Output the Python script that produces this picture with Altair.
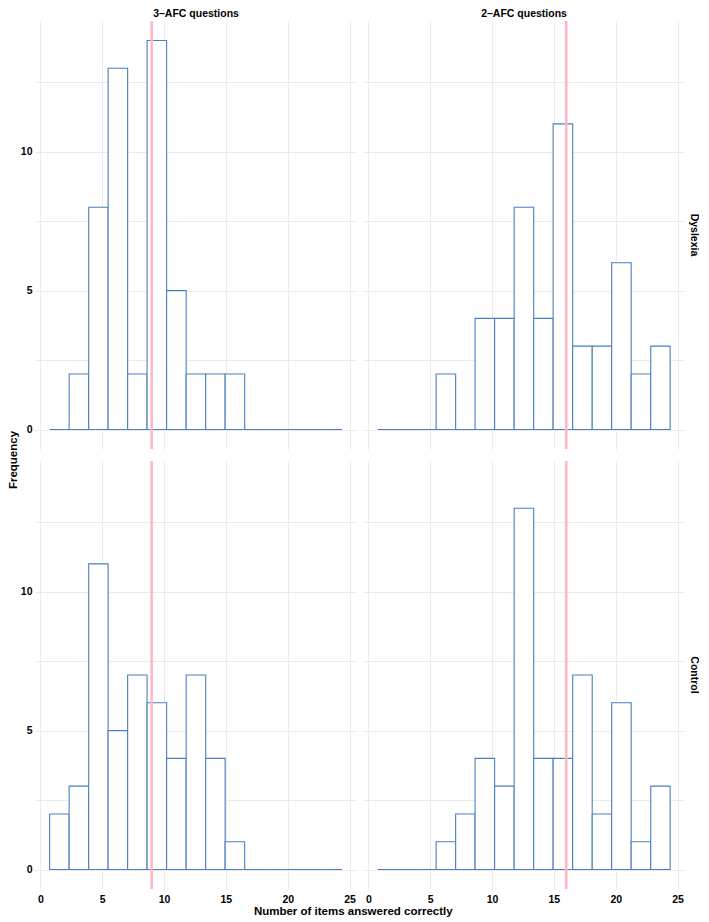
import altair as alt
import pandas as pd

# bin edges (number of items answered correctly)
bin_lo = [0.75, 2.33, 3.91, 5.48, 7.06, 8.63, 10.21, 11.79, 13.37, 14.94, 16.52, 18.10, 19.67, 21.25, 22.83]
bin_hi = [2.33, 3.91, 5.48, 7.06, 8.63, 10.21, 11.79, 13.37, 14.94, 16.52, 18.10, 19.67, 21.25, 22.83, 24.40]

groups = ["Dyslexia", "Control"]
questions = ["3–AFC questions", "2–AFC questions"]

dys_3afc = [0, 2, 8, 13, 2, 14, 5, 2, 2, 2, 0, 0, 0, 0, 0]
con_3afc = [2, 3, 11, 5, 7, 6, 4, 7, 4, 1, 0, 0, 0, 0, 0]
dys_2afc = [0, 0, 0, 2, 0, 4, 4, 8, 4, 11, 3, 3, 6, 2, 3]
con_2afc = [0, 0, 0, 1, 2, 4, 3, 13, 4, 4, 7, 2, 6, 1, 3]

chance = {"3–AFC questions": 9, "2–AFC questions": 16}

counts = {
    ("Dyslexia", "3–AFC questions"): dys_3afc,
    ("Control", "3–AFC questions"): con_3afc,
    ("Dyslexia", "2–AFC questions"): dys_2afc,
    ("Control", "2–AFC questions"): con_2afc,
}

rows = []
for (g, q), vals in counts.items():
    for lo, hi, c in zip(bin_lo, bin_hi, vals):
        rows.append({"group": g, "question": q, "kind": "bar", "lo": lo, "hi": hi, "count": c})
    rows.append({"group": g, "question": q, "kind": "rule", "ref": chance[q]})
df = pd.DataFrame(rows)

grid_x = [0, 2.5, 5, 7.5, 10, 12.5, 15, 17.5, 20, 22.5, 25]
grid_y = [0, 2.5, 5, 7.5, 10, 12.5]
lab_expr = "datum.value % 5 === 0 ? datum.label : ''"

FONT = "Liberation Sans"
PW, PH = 322, 428

xscale = alt.Scale(domain=[-0.43, 25.6], nice=False, zero=False)
yscale = alt.Scale(domain=[-0.7, 14.7], nice=False, zero=False)

bars = alt.Chart().transform_filter("datum.kind === 'bar'").mark_rect(
    fill="white", stroke="#4a7fc1", strokeWidth=1.1
).encode(
    x=alt.X("lo:Q", scale=xscale,
            axis=alt.Axis(values=grid_x, labelExpr=lab_expr, title=None)),
    x2="hi:Q",
    y=alt.Y("count:Q", scale=yscale,
            axis=alt.Axis(values=grid_y, labelExpr=lab_expr, title=None)),
    y2=alt.datum(0),
)

rule = alt.Chart().transform_filter("datum.kind === 'rule'").mark_rule(
    color="#ffb6c1", strokeWidth=2.5
).encode(x=alt.X("ref:Q", scale=xscale))

facet = alt.layer(bars, rule, data=df).properties(
    width=PW, height=PH
).facet(
    row=alt.Row("group:N", sort=groups, title=None, header=alt.Header(
        labelOrient="right", labelAngle=90, labelFontSize=10.5,
        labelFontWeight="bold", labelColor="black", labelFont=FONT,
        labelPadding=3)),
    column=alt.Column("question:N", sort=questions, title=None, header=alt.Header(
        labelOrient="top", labelFontSize=10.5, labelFontWeight="bold",
        labelColor="black", labelFont=FONT, labelPadding=0)),
    spacing={"row": 8, "column": 6},
)

ylab = alt.Chart(pd.DataFrame({"t": ["Frequency"]})).mark_text(
    angle=270, fontSize=11.5, fontWeight="bold", font=FONT, color="black"
).encode(text="t:N").properties(width=10, height=2 * PH + 8 + 14)

chart = alt.hconcat(ylab, facet, spacing=0).properties(
    title=alt.TitleParams("Number of items answered correctly", orient="bottom",
                          anchor="middle", fontSize=11.5, fontWeight="bold",
                          font=FONT, color="black", offset=1),
    padding=0, background="white",
).configure_view(stroke=None).configure_axis(
    grid=True, gridColor="#ebebeb", gridWidth=1, ticks=False, domain=False,
    labelFontSize=10.5, labelFontWeight="bold", labelColor="black",
    labelFont=FONT, labelPadding=3
).configure_concat(spacing=0)

chart.save("out.html", embed_options={"renderer": "svg", "actions": False})
